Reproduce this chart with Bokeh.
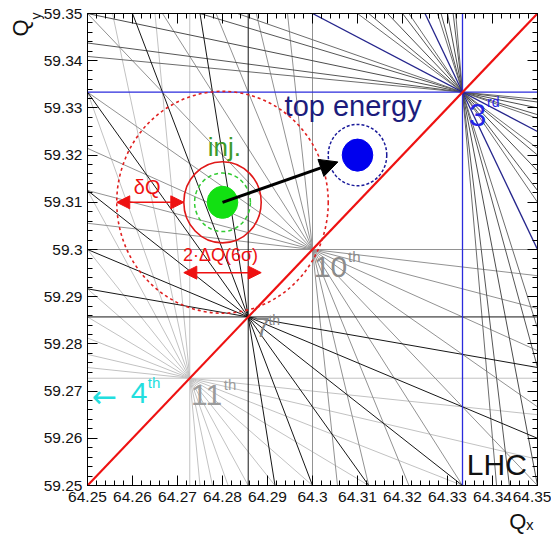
import math
from math import gcd
from bokeh.plotting import figure
from bokeh.models import (Range1d, FixedTicker, LinearAxis, Arrow, NormalHead, Title,
                          ColumnDataSource, CustomJSTickFormatter)
from bokeh.core.properties import value
from bokeh.embed import file_html
from bokeh.resources import INLINE

# ---------------- data ----------------
QX_RANGE = [64.25, 64.35]
QY_RANGE = [59.25, 59.35]
X_TICKS = [64.25, 64.26, 64.27, 64.28, 64.29, 64.30, 64.31, 64.32, 64.33, 64.34, 64.35]
X_LABELS = ["64.25", "64.26", "64.27", "64.28", "64.29", "64.3", "64.31", "64.32", "64.33", "64.34", "64.35"]
Y_TICKS = [59.25, 59.26, 59.27, 59.28, 59.29, 59.30, 59.31, 59.32, 59.33, 59.34, 59.35]
Y_LABELS = ["59.25", "59.26", "59.27", "59.28", "59.29", "59.3", "59.31", "59.32", "59.33", "59.34", "59.35"]
MINOR_DIV = 5

# resonance orders drawn (sum resonances m*Qx + k*Qy = p)
RES_ORDERS = [11, 10, 12, 9, 6, 7, 3]
COUPLING_DIFF = 5  # Qx - Qy = 5 (coupling line)

# working points
TUNE_NAMES = ["inj.", "top energy"]
TUNE_QX = [64.28, 64.31]
TUNE_QY = [59.31, 59.32]
BEAM_R = [0.0034, 0.0034]
HALO_R = [0.0062, 0.0065]
DQ_6SIGMA = 0.0086
DELTA_Q = 0.0149

# ---------------- styles ----------------
RES_COLOR = {11: "#c2c2c2", 10: "#929292", 12: "#6c6c6c", 9: "#565656",
             6: "#4c4c4c", 7: "#161616", 3: "#25258c"}
RES3_AXIS_COLOR = "#2b2bdc"

FONT = "Liberation Sans"

p = figure(width=551, height=545, output_backend="svg", toolbar_location=None,
           x_range=Range1d(*QX_RANGE), y_range=Range1d(*QY_RANGE),
           min_border_left=87, min_border_top=13, min_border_right=14, min_border_bottom=60)
p.grid.visible = False
p.outline_line_color = "black"
p.outline_line_width = 1
p.background_fill_color = "white"
p.border_fill_color = "white"


def minor_of(ticks):
    out = []
    for a, b in zip(ticks[:-1], ticks[1:]):
        for j in range(1, MINOR_DIV):
            out.append(a + j * (b - a) / MINOR_DIV)
    return out


def style_axis(ax, ticks, labels, show_labels, standoff):
    ax.ticker = FixedTicker(ticks=ticks, minor_ticks=minor_of(ticks))
    ax.major_tick_in = 10
    ax.major_tick_out = 0
    ax.minor_tick_in = 5
    ax.minor_tick_out = 0
    ax.major_tick_line_color = "black"
    ax.minor_tick_line_color = "black"
    ax.axis_line_color = "black"
    if show_labels:
        ax.major_label_overrides = {t: l for t, l in zip(ticks, labels)}
        ax.major_label_text_font = FONT
        ax.major_label_text_font_size = "15.5px"
        ax.major_label_text_color = "#111111"
        ax.major_label_standoff = standoff
    else:
        ax.formatter = CustomJSTickFormatter(code="return ''")
        ax.major_label_text_font_size = "0px"
        ax.major_label_standoff = 0


style_axis(p.xaxis[0], X_TICKS, X_LABELS, True, 6)
style_axis(p.yaxis[0], Y_TICKS, Y_LABELS, True, 5)
top_ax = LinearAxis()
right_ax = LinearAxis()
style_axis(top_ax, X_TICKS, X_LABELS, False, 0)
style_axis(right_ax, Y_TICKS, Y_LABELS, False, 0)
p.add_layout(top_ax, "above")
p.add_layout(right_ax, "right")

# axis titles
p.add_layout(Title(text="y", align="right", vertical_align="top", offset=-1, standoff=-10,
                   text_font=FONT, text_font_size="14px", text_font_style="normal",
                   text_color="#111111"), "left")
p.add_layout(Title(text="Q", align="right", vertical_align="bottom", offset=6, standoff=0,
                   text_font=FONT, text_font_size="22px", text_font_style="normal",
                   text_color="#111111"), "left")
p.add_layout(Title(text="Qₓ", align="right", vertical_align="top", offset=4, standoff=9,
                   text_font=FONT, text_font_size="22px", text_font_style="normal",
                   text_color="#111111"), "below")

# ---------------- resonance lines ----------------
x0, x1 = QX_RANGE
y0, y1 = QY_RANGE
EPS = 1e-9


def clip(m, k, pp):
    if k == 0:
        x = pp / m
        return (x, y0, x, y1) if x0 + EPS < x < x1 - EPS else None
    if m == 0:
        y = pp / k
        return (x0, y, x1, y) if y0 + EPS < y < y1 - EPS else None
    cand = []
    for x in (x0, x1):
        y = (pp - m * x) / k
        if y0 - EPS <= y <= y1 + EPS:
            cand.append((x, y))
    for y in (y0, y1):
        x = (pp - k * y) / m
        if x0 - EPS <= x <= x1 + EPS:
            cand.append((x, y))
    if len(cand) < 2:
        return None
    cand.sort()
    (xa, ya), (xb, yb) = cand[0], cand[-1]
    if math.hypot(xb - xa, yb - ya) < 1e-6:
        return None
    return (xa, ya, xb, yb)


for n in RES_ORDERS:
    xs, ys, cols = [], [], []
    for m in range(n + 1):
        k = n - m
        lo = m * x0 + k * y0
        hi = m * x1 + k * y1
        for pp in range(math.ceil(lo - EPS), math.floor(hi + EPS) + 1):
            if gcd(gcd(m, k), pp) != 1:
                continue
            seg = clip(m, k, pp)
            if seg is None:
                continue
            xs.append([seg[0], seg[2]])
            ys.append([seg[1], seg[3]])
            if n == 3 and (m == 0 or k == 0):
                cols.append(RES3_AXIS_COLOR)
            else:
                cols.append(RES_COLOR[n])
    src = ColumnDataSource(dict(xs=xs, ys=ys, c=cols))
    p.multi_line("xs", "ys", source=src, line_color="c", line_width=1.3 if n == 3 else 1.0)

# coupling line
p.line(x=QX_RANGE, y=[q - COUPLING_DIFF for q in QX_RANGE], line_color="#ee1111", line_width=2.2)

# ---------------- working points ----------------
ix, iy = TUNE_QX[0], TUNE_QY[0]
tx, ty = TUNE_QX[1], TUNE_QY[1]
r_dashed = DQ_6SIGMA + DELTA_Q

p.ellipse(x=[ix], y=[iy], width=[2 * r_dashed], height=[2 * r_dashed], fill_color=None,
          line_color="#e02020", line_width=1.6, line_dash="3 3")
p.ellipse(x=[ix], y=[iy], width=[2 * DQ_6SIGMA], height=[2 * DQ_6SIGMA], fill_color=None,
          line_color="#e01818", line_width=1.6)
p.ellipse(x=[ix], y=[iy], width=[2 * HALO_R[0]], height=[2 * HALO_R[0]], fill_color=None,
          line_color="#33cc33", line_width=1.5, line_dash="4 3")
p.ellipse(x=[ix], y=[iy], width=[2 * BEAM_R[0]], height=[2 * BEAM_R[0]], fill_color="#12e012",
          line_color="#12e012")
p.ellipse(x=[tx], y=[ty], width=[2 * HALO_R[1]], height=[2 * HALO_R[1]], fill_color=None,
          line_color="#1a1a9a", line_width=1.5, line_dash="3 2")
p.ellipse(x=[tx], y=[ty], width=[2 * BEAM_R[1]], height=[2 * BEAM_R[1]], fill_color="#0000ee",
          line_color="#0000ee")

# arrow inj -> top energy
dx, dy = tx - ix, ty - iy
dl = math.hypot(dx, dy)
tip_x = tx - 1.35 * BEAM_R[1] * dx / dl
tip_y = ty - 1.35 * BEAM_R[1] * dy / dl
p.add_layout(Arrow(end=NormalHead(size=18, fill_color="black", line_color="black"),
                   x_start=ix, y_start=iy, x_end=tip_x, y_end=tip_y,
                   line_color="black", line_width=3))

# delta Q arrow
p.add_layout(Arrow(start=NormalHead(size=13, fill_color="#ee1111", line_color="#ee1111"),
                   end=NormalHead(size=13, fill_color="#ee1111", line_color="#ee1111"),
                   x_start=ix - r_dashed, y_start=iy, x_end=ix - DQ_6SIGMA, y_end=iy,
                   line_color="#ee1111", line_width=1.5))
# 2 dQ(6 sigma) arrow
y_arr = iy - 0.0149
p.add_layout(Arrow(start=NormalHead(size=13, fill_color="#ee1111", line_color="#ee1111"),
                   end=NormalHead(size=13, fill_color="#ee1111", line_color="#ee1111"),
                   x_start=ix - DQ_6SIGMA, y_start=y_arr, x_end=ix + DQ_6SIGMA, y_end=y_arr,
                   line_color="#ee1111", line_width=1.5))

# ---------------- texts ----------------
txt = ColumnDataSource(dict(
    x=[64.2767, 64.2938, 64.3348, 64.3388, 64.2872, 64.2902, 64.3003, 64.3079,
       64.2730, 64.2803, 64.2596, 64.2634, 64.3343, 64.2603, 64.2712],
    y=[59.3218, 59.3305, 59.3286, 59.3313, 59.2835, 59.2851, 59.2963, 59.2986,
       59.2692, 59.2714, 59.2696, 59.2719, 59.2544, 59.3132, 59.2988],
    t=["inj.", "top energy", "3", "rd", "7", "th", "10", "th",
       "11", "th", "4", "th", "LHC", "δQ", "2·ΔQ(6σ)"],
    s=["26px", "29px", "31px", "14px", "27px", "14px", "30px", "15px",
       "30px", "15px", "30px", "15px", "30px", "20px", "18px"],
    c=["#3d9a2a", "#1c1c7c", "#2525e6", "#2525e6", "#858585", "#858585", "#8c8c8c", "#8c8c8c",
       "#9c9c9c", "#9c9c9c", "#22dede", "#22dede", "#111111", "#ee1111", "#ee1111"],
))
p.text(x="x", y="y", text="t", source=txt, text_font=value(FONT), text_font_size="s",
       text_color="c", text_align="left", text_baseline="alphabetic")
p.text(x=[64.2510], y=[59.2689], text=["←"], text_font=value("DejaVu Sans"),
       text_font_size="30px", text_color="#22dede", text_align="left", text_baseline="alphabetic")

open("out.html", "w").write(file_html(p, INLINE))
